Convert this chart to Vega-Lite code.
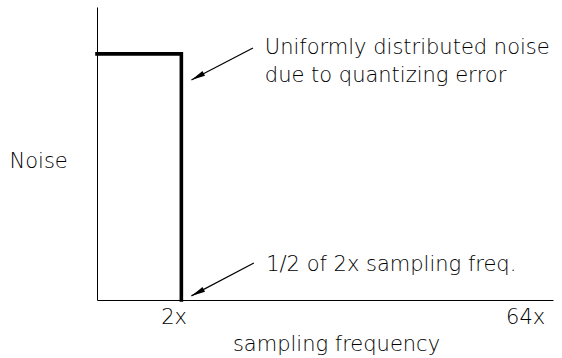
{
  "$schema": "https://vega.github.io/schema/vega-lite/v6.json",
  "width": 456,
  "height": 293,
  "autosize": "none",
  "padding": {"left": 97, "top": 7, "right": 9, "bottom": 58},
  "background": "white",
  "config": {
    "view": {"stroke": null},
    "font": "DejaVu Sans",
    "text": {"font": "DejaVu Sans", "fontWeight": 200, "fontSize": 21, "color": "black"}
  },
  "datasets": {
    "noise": [
      {"f": 0, "n": 84.0, "o": 1},
      {"f": 18.5, "n": 84.0, "o": 2},
      {"f": 18.5, "n": 0, "o": 3}
    ],
    "arrows": [
      {"x1": 34.2, "y1": 86.0, "x2": 20.7, "y2": 75.1},
      {"x1": 34.4, "y1": 12.6, "x2": 20.7, "y2": 1.4}
    ],
    "notes": [
      {"label": "Uniformly distributed noise", "x": 36.8, "y": 84.0},
      {"label": "due to quantizing error", "x": 36.8, "y": 74.5},
      {"label": "1/2 of 2x sampling freq.", "x": 37.1, "y": 9.8}
    ]
  },
  "layer": [
    {
      "data": {"name": "noise"},
      "mark": {"type": "line", "color": "black", "strokeWidth": 3.6, "strokeCap": "square", "strokeJoin": "miter"},
      "encoding": {
        "x": {
          "field": "f", "type": "quantitative",
          "scale": {"domain": [0, 100], "nice": false, "zero": false},
          "axis": {
            "domain": true, "domainColor": "black", "domainWidth": 1,
            "ticks": false, "tickSize": 0, "grid": false,
            "values": [16.8, 93.9],
            "labelExpr": "datum.value < 50 ? '2x' : '64x'",
            "labelFont": "DejaVu Sans", "labelFontWeight": 200, "labelFontSize": 21, "labelColor": "black",
            "labelBaseline": "alphabetic", "labelPadding": 23, "labelFlush": false, "labelOverlap": false,
            "title": "sampling frequency",
            "titleFont": "DejaVu Sans", "titleFontWeight": 200, "titleFontSize": 21, "titleColor": "black",
            "titleX": 239, "titleY": 50, "titleAlign": "center", "titleBaseline": "alphabetic"
          }
        },
        "y": {
          "field": "n", "type": "quantitative",
          "scale": {"domain": [0, 100], "nice": false, "zero": false},
          "axis": {
            "domain": true, "domainColor": "black", "domainWidth": 1,
            "ticks": false, "tickSize": 0, "grid": false, "labels": false,
            "title": "Noise",
            "titleFont": "DejaVu Sans", "titleFontWeight": 200, "titleFontSize": 21, "titleColor": "black",
            "titleAngle": 0, "titleX": -88, "titleY": 160, "titleAlign": "left", "titleBaseline": "alphabetic"
          }
        },
        "order": {"field": "o", "type": "quantitative"}
      }
    },
    {
      "data": {"name": "arrows"},
      "mark": {"type": "rule", "color": "black", "strokeWidth": 1.2},
      "encoding": {
        "x": {"field": "x1", "type": "quantitative"},
        "y": {"field": "y1", "type": "quantitative"},
        "x2": {"field": "x2"},
        "y2": {"field": "y2"}
      }
    },
    {
      "data": {"name": "arrows"},
      "mark": {
        "type": "point", "filled": true, "color": "black", "opacity": 1,
        "shape": "M0,0L0.38,2L-0.38,2Z", "size": 196, "angle": 242
      },
      "encoding": {
        "x": {"field": "x2", "type": "quantitative"},
        "y": {"field": "y2", "type": "quantitative"}
      }
    },
    {
      "data": {"name": "notes"},
      "mark": {"type": "text", "align": "left", "baseline": "alphabetic"},
      "encoding": {
        "x": {"field": "x", "type": "quantitative"},
        "y": {"field": "y", "type": "quantitative"},
        "text": {"field": "label"}
      }
    }
  ]
}
